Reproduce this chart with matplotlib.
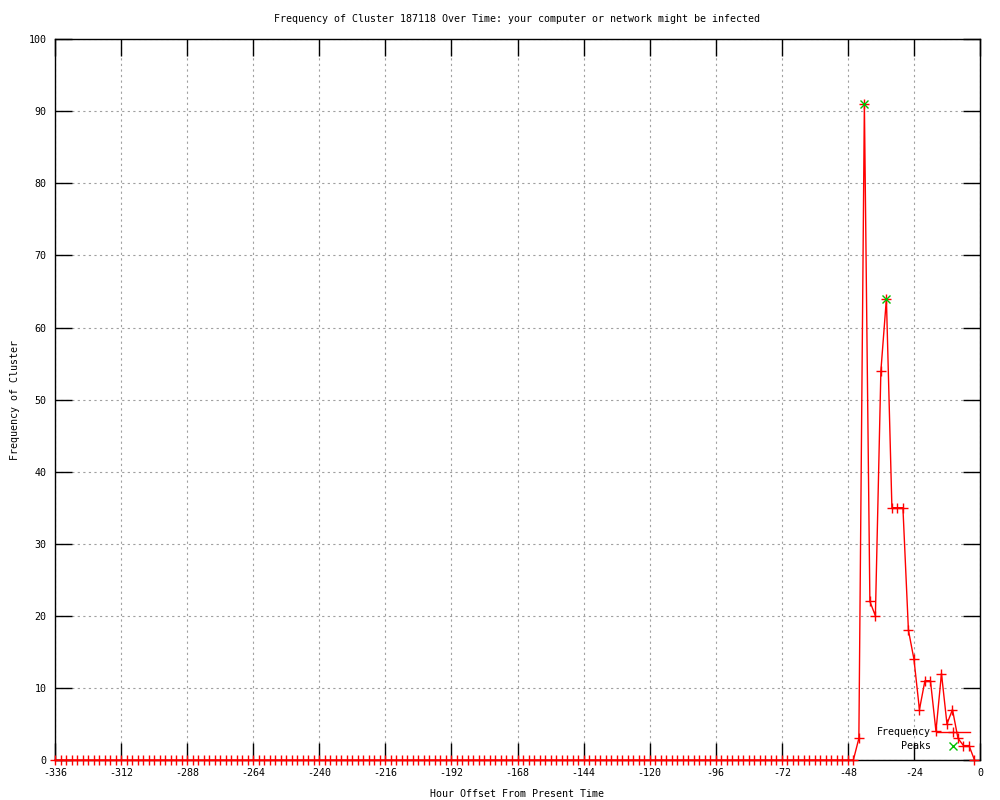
import matplotlib
matplotlib.use("Agg")
import matplotlib.pyplot as plt
import numpy as np

plt.rcParams['font.family'] = ['DejaVu Sans Mono']
plt.rcParams['axes.unicode_minus'] = False

# hours before now, sampled every 2 hours
hours = np.arange(-336, 0, 2)
# nothing seen until -46, then the burst
freq = [0] * 146 + [3, 91, 22, 20, 54, 64, 35, 35, 35, 18, 14, 7, 11, 11,
                    4, 12, 5, 7, 3, 2, 2, 0]

peak_hours = [-42, -34]
peak_freq = [91, 64]

x_ticks = np.arange(-336, 1, 24)
y_ticks = np.arange(0, 101, 10)

fig = plt.figure(figsize=(10, 8), dpi=100)
ax = fig.add_axes([0.055, 0.05, 0.925, 0.901])

ax.plot(hours, freq, color='red', linewidth=1, marker='+', markersize=7,
        markeredgewidth=1, label='Frequency', clip_on=False, zorder=3)
ax.plot(peak_hours, peak_freq, linestyle='none', marker='x', color='#00c000',
        markersize=6, markeredgewidth=1, label='Peaks', clip_on=False, zorder=4)

ax.set_xlim(-336, 0)
ax.set_ylim(0, 100)
ax.set_xticks(x_ticks)
ax.set_yticks(y_ticks)
ax.tick_params(direction='in', length=12, width=1, top=True, right=True,
               labelsize=7.2, pad=6, color='black')
ax.grid(True, color='#a0a0a0', linestyle=(0, (2, 3)), linewidth=0.8)
ax.set_axisbelow(True)
for s in ax.spines.values():
    s.set_linewidth(1)

ax.set_title('Frequency of Cluster 187118 Over Time: your computer or network might be infected',
             fontsize=7.2, pad=12.5)
ax.set_xlabel('Hour Offset From Present Time', fontsize=7.2, labelpad=8)
ax.set_ylabel('Frequency of Cluster', fontsize=7.2, labelpad=6)

ax.legend(loc='lower right', bbox_to_anchor=(0.989, 0.012), frameon=False,
          markerfirst=False, fontsize=7.2, handlelength=3.3, handletextpad=0.6,
          labelspacing=0.4, borderpad=0, borderaxespad=0)

fig.savefig('out.png', dpi=100)
